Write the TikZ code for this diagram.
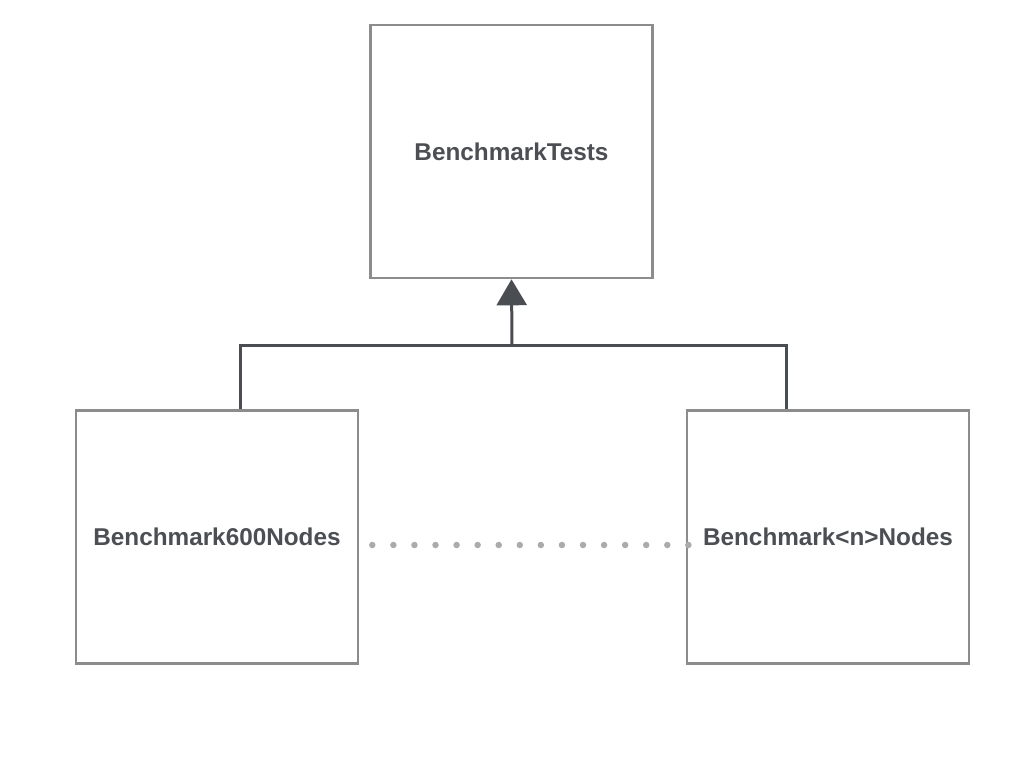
\documentclass[tikz,border=0pt]{standalone}
\usepackage{fontspec}
\setmainfont{Liberation Sans}
\usetikzlibrary{arrows.meta}
\definecolor{txt}{HTML}{4B4E53}
\definecolor{boxline}{HTML}{8C8C8C}
\definecolor{conn}{HTML}{4A4D52}
\definecolor{dotc}{HTML}{ABABAB}
\begin{document}
\begin{tikzpicture}[x=1pt,y=-1pt,
  cls/.style={draw=boxline, line width=2.6pt, fill=white, minimum width=282pt, minimum height=253pt,
    inner sep=0pt, text depth=-4pt, font=\bfseries\fontsize{24.3}{28}\selectfont, text=txt},
  link/.style={draw=conn, line width=3pt},
  dotline/.style={draw=dotc, line width=6.5pt, line cap=round, dash pattern=on 0pt off 21.07pt}]
\useasboundingbox (0,0) rectangle (1024,768);
\node[cls] (top) at (511.5,151.5) {BenchmarkTests};
\node[cls] (left) at (217,537) {Benchmark600Nodes};
\node[cls] (right) at (828,537) {Benchmark<n>Nodes};
\coordinate (j) at (512,345);
\draw[link] ([xshift=23pt]left.north) |- (j) -| ([xshift=-42pt]right.north);
\draw[link, -{Triangle[width=30pt,length=26pt]}] (j) -- (top.south);
\draw[dotline] ([shift={(13,8)}]left.east) -- ++(316.2,0);
\end{tikzpicture}
\end{document}
